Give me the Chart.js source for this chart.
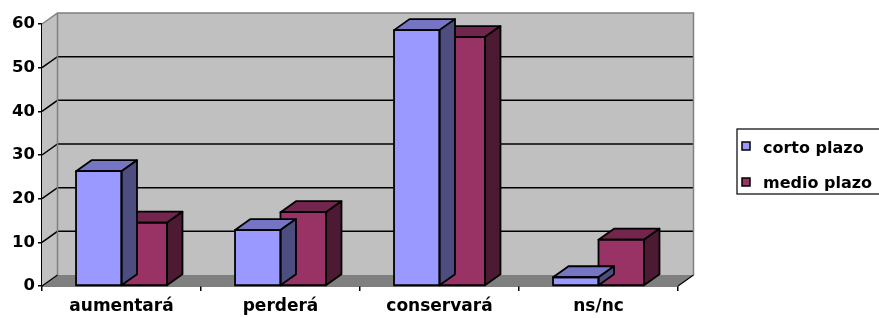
<!DOCTYPE html>
<html>
<head>
<meta charset="utf-8">
<script src="https://cdn.jsdelivr.net/npm/chart.js@4/dist/chart.umd.min.js"></script>
<style>
html,body{margin:0;padding:0;background:#fff;}
#wrap{width:879px;height:318px;position:relative;}
</style>
</head>
<body>
<div id="wrap"><canvas id="c" width="879" height="318"></canvas></div>
<script>
const categories = ['aumentará', 'perderá', 'conservará', 'ns/nc'];
const cortoPlazo = [26.3, 12.8, 58.6, 2.0];
const medioPlazo = [14.5, 16.9, 57.0, 10.6];
const yTicks = [0, 10, 20, 30, 40, 50, 60];
const seriesNames = ['corto plazo', 'medio plazo'];

const FONT = 'DejaVu Sans';
const DX = 15.5, DY = -11;

const plugin3d = {
  id: 'excel3d',
  beforeDatasetsDraw(chart) {
    const ctx = chart.ctx, a = chart.chartArea, y = chart.scales.y;
    ctx.save();
    ctx.fillStyle = '#C0C0C0';
    ctx.beginPath();
    ctx.moveTo(a.left, a.top); ctx.lineTo(a.left + DX, a.top + DY);
    ctx.lineTo(a.left + DX, a.bottom + DY); ctx.lineTo(a.left, a.bottom);
    ctx.closePath(); ctx.fill();
    ctx.fillRect(a.left + DX, a.top + DY, a.right - a.left, a.bottom - a.top);
    ctx.fillStyle = '#808080';
    ctx.beginPath();
    ctx.moveTo(a.left, a.bottom); ctx.lineTo(a.right, a.bottom);
    ctx.lineTo(a.right + DX, a.bottom + DY); ctx.lineTo(a.left + DX, a.bottom + DY);
    ctx.closePath(); ctx.fill();
    ctx.strokeStyle = '#000'; ctx.lineWidth = 1.5;
    yTicks.forEach(v => {
      if (v === 0 || v === 60) return;
      const py = y.getPixelForValue(v);
      ctx.beginPath();
      ctx.moveTo(a.left, py); ctx.lineTo(a.left + DX, py + DY); ctx.lineTo(a.right + DX, py + DY);
      ctx.stroke();
    });
    ctx.strokeStyle = '#808080'; ctx.lineWidth = 1.5;
    ctx.beginPath();
    ctx.moveTo(a.left, a.top); ctx.lineTo(a.left + DX, a.top + DY);
    ctx.lineTo(a.right + DX, a.top + DY); ctx.lineTo(a.right + DX, a.bottom + DY);
    ctx.moveTo(a.left + DX, a.top + DY); ctx.lineTo(a.left + DX, a.bottom + DY);
    ctx.stroke();
    ctx.strokeStyle = '#000'; ctx.lineWidth = 1.2;
    ctx.beginPath();
    ctx.moveTo(a.left, a.bottom); ctx.lineTo(a.left + DX, a.bottom + DY);
    ctx.moveTo(a.right, a.bottom); ctx.lineTo(a.right + DX, a.bottom + DY);
    ctx.stroke();
    ctx.restore();
  },
  afterDatasetDraw(chart, args) {
    const ctx = chart.ctx;
    const ds = chart.data.datasets[args.index];
    ctx.save();
    ctx.strokeStyle = '#000'; ctx.lineWidth = 1.8; ctx.lineJoin = 'round';
    args.meta.data.forEach(bar => {
      const p = bar.getProps(['x', 'y', 'width', 'base'], true);
      const l = p.x - p.width / 2, r = p.x + p.width / 2, t = p.y, b = p.base;
      ctx.fillStyle = ds.topColor;
      ctx.beginPath();
      ctx.moveTo(l, t); ctx.lineTo(l + DX, t + DY); ctx.lineTo(r + DX, t + DY); ctx.lineTo(r, t);
      ctx.closePath(); ctx.fill(); ctx.stroke();
      ctx.fillStyle = ds.sideColor;
      ctx.beginPath();
      ctx.moveTo(r, t); ctx.lineTo(r + DX, t + DY); ctx.lineTo(r + DX, b + DY); ctx.lineTo(r, b);
      ctx.closePath(); ctx.fill(); ctx.stroke();
      ctx.beginPath();
      ctx.rect(l, t, p.width, b - t);
      ctx.stroke();
    });
    ctx.restore();
  },
  afterDraw(chart) {
    const ctx = chart.ctx;
    ctx.save();
    ctx.strokeStyle = '#000'; ctx.lineWidth = 1.2;
    ctx.strokeRect(737, 129, 160, 65);
    ctx.font = 'bold 16px "' + FONT + '"';
    ctx.textBaseline = 'alphabetic';
    ctx.textAlign = 'left';
    const baselines = [153, 188];
    const boxTops = [142, 178];
    chart.data.datasets.forEach((ds, i) => {
      ctx.fillStyle = ds.backgroundColor;
      ctx.fillRect(742, boxTops[i], 8, 8);
      ctx.strokeStyle = '#000'; ctx.lineWidth = 1.5;
      ctx.strokeRect(742, boxTops[i], 8, 8);
      ctx.fillStyle = '#000';
      ctx.fillText(ds.label, 763, baselines[i]);
    });
    ctx.restore();
  }
};

new Chart(document.getElementById('c'), {
  type: 'bar',
  data: {
    labels: categories,
    datasets: [
      { label: seriesNames[0], data: cortoPlazo, backgroundColor: '#9999FF', topColor: '#7575C4', sideColor: '#4D4D80',
        borderColor: '#000', borderWidth: 0 },
      { label: seriesNames[1], data: medioPlazo, backgroundColor: '#993366', topColor: '#73264D', sideColor: '#4D1A33',
        borderColor: '#000', borderWidth: 0 }
    ]
  },
  options: {
    responsive: false,
    animation: false,
    devicePixelRatio: 1,
    categoryPercentage: 0.572,
    barPercentage: 1,
    layout: { padding: { top: 24, right: 201, left: 0, bottom: 0 } },
    plugins: { legend: { display: false }, tooltip: { enabled: false } },
    scales: {
      x: {
        afterFit: s => { s.height = 32; },
        border: { display: true, color: '#000', width: 1.5 },
        grid: { drawOnChartArea: false, drawTicks: true, tickLength: 5, color: '#000', lineWidth: 1.5, offset: true },
        ticks: { color: '#000', font: { family: FONT, size: 17, weight: 'bold' }, padding: 5, maxRotation: 0 }
      },
      y: {
        min: 0, max: 60,
        afterFit: s => { s.width = 42; },
        afterBuildTicks: s => { s.ticks = yTicks.map(v => ({ value: v })); },
        border: { display: true, color: '#000', width: 1.5 },
        grid: { drawOnChartArea: false, drawTicks: true, tickLength: 4, color: '#000', lineWidth: 1.5 },
        ticks: { color: '#000', font: { family: FONT, size: 16.5, weight: 'bold' }, padding: 3 }
      }
    }
  },
  plugins: [plugin3d]
});
</script>
</body>
</html>
